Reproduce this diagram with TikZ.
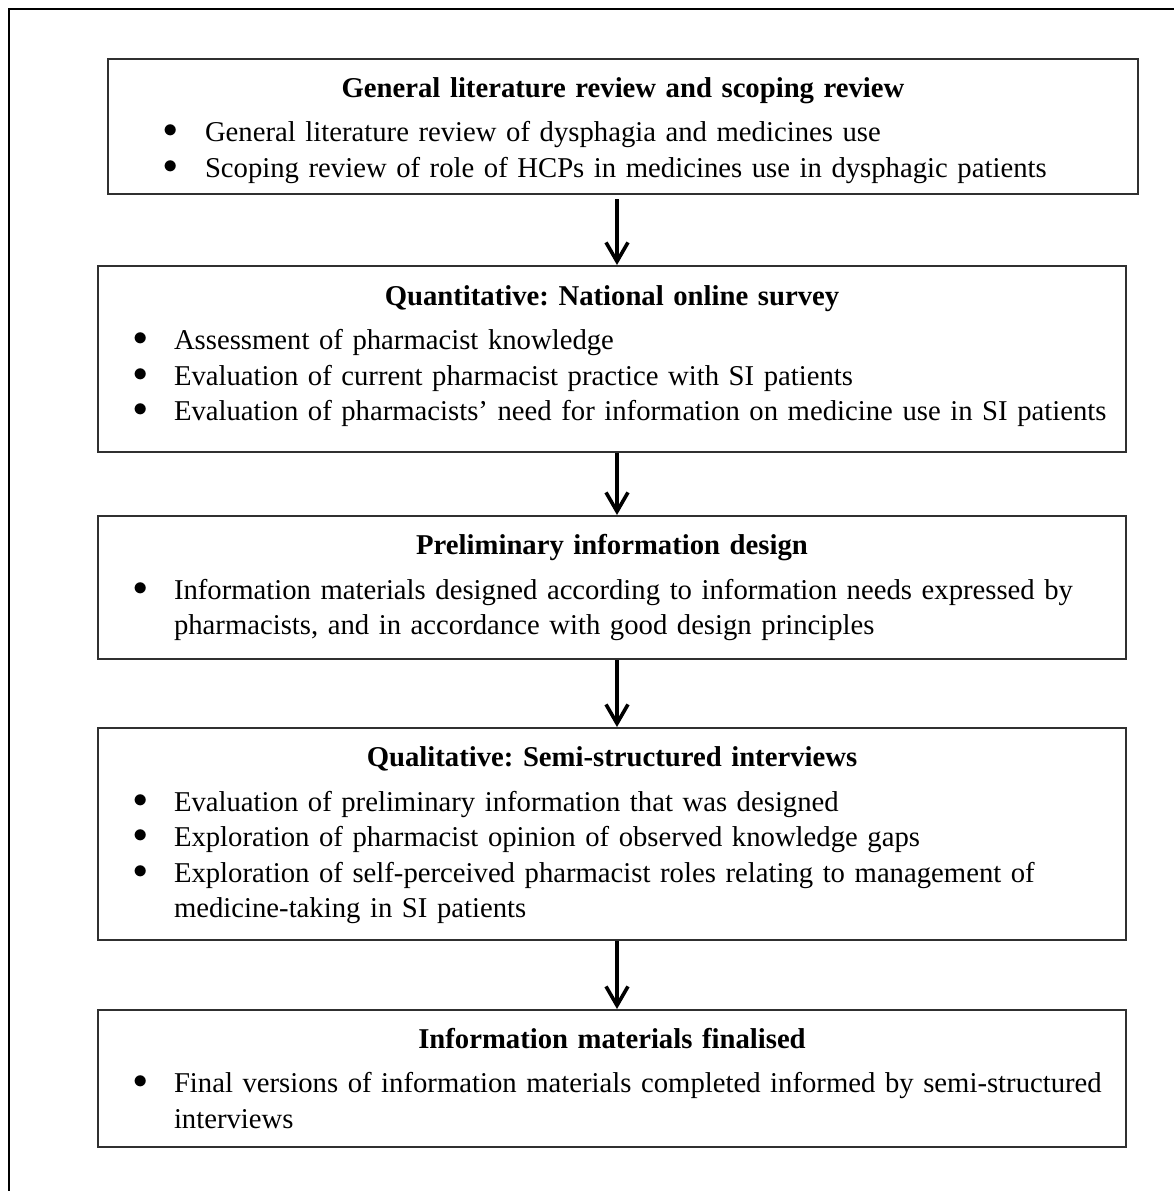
\documentclass[tikz,border=0pt]{standalone}
\usepackage{fontspec}
\setmainfont{Liberation Serif}
\usetikzlibrary{arrows.meta, positioning, calc}
\definecolor{ink}{HTML}{000000}
\definecolor{rule}{HTML}{303030}

% bullet lists inside the phase boxes
\newlength{\bulletpos}
\newlength{\itemtext}
\newcommand{\phasetitle}[1]{\frenchspacing\centering\textbf{#1}\par\vspace{4.5pt}\raggedright}
\newcommand{\phasebullet}{\raisebox{2pt}{$\bullet$}}
\newcommand{\phaseitem}[1]{\par\noindent\hangindent=\itemtext\hangafter=1
  \hspace*{\bulletpos}\makebox[0pt]{\phasebullet}\hspace*{\dimexpr\itemtext-\bulletpos\relax}#1\par}

\begin{document}
\begin{tikzpicture}[x=0.5pt, y=-0.5pt, >={Straight Barb[length=9.5pt, width=11pt]},
  phase/.style={draw=rule, line width=1pt, inner xsep=0pt, inner ysep=0pt,
    anchor=north west, text width=514pt, text=ink,
    font=\fontsize{14.35}{17.75}\selectfont},
  flow/.style={->, draw=ink, line width=1.8pt}]

\useasboundingbox (0,0) rectangle (1174,1191);

% Outer frame (runs off the page on the right and bottom)
\draw[ink, line width=1pt] (9,1200) -- (9,9) -- (1190,9);

% ================================================================
% PHASE BOXES
% ================================================================
\node[phase, text width=515pt, minimum height=67.5pt] (review) at (107,58)
  {\setlength{\bulletpos}{31.5pt}\setlength{\itemtext}{48.5pt}%
   \phasetitle{General literature review and scoping review}
   \phaseitem{General literature review of dysphagia and medicines use}
   \phaseitem{Scoping review of role of HCPs in medicines use in dysphagic patients}
   \vspace*{-4pt}};

\node[phase, minimum height=93pt] (survey) at (97,265)
  {\setlength{\bulletpos}{21.5pt}\setlength{\itemtext}{38pt}%
   \phasetitle{Quantitative: National online survey}
   \phaseitem{Assessment of pharmacist knowledge}
   \phaseitem{Evaluation of current pharmacist practice with SI patients}
   \phaseitem{Evaluation of pharmacists’ need for information on medicine use in SI patients}
   \vspace*{3pt}};

\node[phase, minimum height=71.5pt] (design) at (97,515)
  {\setlength{\bulletpos}{21.5pt}\setlength{\itemtext}{38pt}%
   \phasetitle{Preliminary information design}
   \phaseitem{Information materials designed according to information needs expressed by\newline
     pharmacists, and in accordance with good design principles}};

\node[phase, minimum height=106pt] (interviews) at (97,727)
  {\setlength{\bulletpos}{21.5pt}\setlength{\itemtext}{38pt}%
   \phasetitle{Qualitative: Semi-structured interviews}
   \phaseitem{Evaluation of preliminary information that was designed}
   \phaseitem{Exploration of pharmacist opinion of observed knowledge gaps}
   \phaseitem{Exploration of self-perceived pharmacist roles relating to management of\newline
     medicine-taking in SI patients}
   \vspace*{-1.5pt}};

\node[phase, minimum height=68.5pt] (final) at (97,1009)
  {\setlength{\bulletpos}{21.5pt}\setlength{\itemtext}{38pt}%
   \phasetitle{Information materials finalised}
   \phaseitem{Final versions of information materials completed informed by semi-structured\newline
     interviews}};

% ================================================================
% ARROWS
% ================================================================
\coordinate (spine) at (617,0);
\draw[flow, shorten <=2pt] (review.south -| spine) -- (survey.north -| spine);
\draw[flow] (survey.south -| spine) -- (design.north -| spine);
\draw[flow] (design.south -| spine) -- (interviews.north -| spine);
\draw[flow] (interviews.south -| spine) -- (final.north -| spine);

\end{tikzpicture}
\end{document}
